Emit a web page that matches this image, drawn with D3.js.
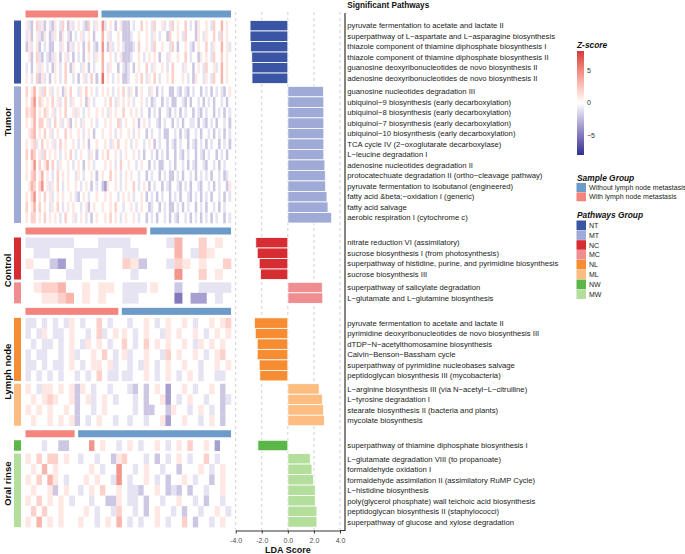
<!DOCTYPE html>
<html><head><meta charset="utf-8">
<script src="https://cdn.jsdelivr.net/npm/d3@7"></script>
<style>body{margin:0;background:#fff}svg{display:block;font-family:"Liberation Sans",Arial,sans-serif}</style>
</head><body><svg id="c" width="685" height="554"></svg>
<script>
// ---------------- DATA ----------------
const sectionNames = ["Tumor", "Control", "Lymph node", "Oral rinse"];
const sectionGroups = [["NT", "MT"], ["NC", "MC"], ["NL", "ML"], ["NW", "MW"]];
const pathwayGroups = ["NT", "MT", "NC", "MC", "NL", "ML", "NW", "MW"];
const sampleGroups = ["Without lymph node metastasis", "With lymph node metastasis"];
const zTicks = [5, 0, -5];
const ldaTicks = [-4, -2, 0, 2, 4];

const pathwaysNT = ["pyruvate fermentation to acetate and lactate II","superpathway of L−aspartate and L−asparagine biosynthesis","thiazole component of thiamine diphosphate biosynthesis I","thiazole component of thiamine diphosphate biosynthesis II","guanosine deoxyribonucleotides de novo biosynthesis II","adenosine deoxyribonucleotides de novo biosynthesis II"];
const ldaNT = [-2.9, -2.9, -2.85, -2.77, -2.75, -2.75];
const pathwaysMT = ["guanosine nucleotides degradation III","ubiquinol−9 biosynthesis (early decarboxylation)","ubiquinol−8 biosynthesis (early decarboxylation)","ubiquinol−7 biosynthesis (early decarboxylation)","ubiquinol−10 biosynthesis (early decarboxylation)","TCA cycle IV (2−oxoglutarate decarboxylase)","L−leucine degradation I","adenosine nucleotides degradation II","protocatechuate degradation II (ortho−cleavage pathway)","pyruvate fermentation to isobutanol (engineered)","fatty acid &beta;−oxidation I (generic)","fatty acid salvage","aerobic respiration I (cytochrome c)"];
const ldaMT = [2.74, 2.76, 2.76, 2.76, 2.76, 2.76, 2.76, 2.84, 2.87, 2.9, 3.0, 3.08, 3.36];
const pathwaysNC = ["nitrate reduction VI (assimilatory)","sucrose biosynthesis I (from photosynthesis)","superpathway of histidine, purine, and pyrimidine biosynthesis","sucrose biosynthesis III"];
const ldaNC = [-2.46, -2.35, -2.2, -2.1];
const pathwaysMC = ["superpathway of salicylate degradation","L−glutamate and L−glutamine biosynthesis"];
const ldaMC = [2.64, 2.68];
const pathwaysNL = ["pyruvate fermentation to acetate and lactate II","pyrimidine deoxyribonucleotides de novo biosynthesis III","dTDP−N−acetylthomosamine biosynthesis","Calvin−Benson−Bassham cycle","superpathway of pyrimidine nucleobases salvage","peptidoglycan biosynthesis III (mycobacteria)"];
const ldaNL = [-2.57, -2.5, -2.35, -2.35, -2.2, -2.15];
const pathwaysML = ["L−arginine biosynthesis III (via N−acetyl−L−citrulline)","L−tyrosine degradation I","stearate biosynthesis II (bacteria and plants)","mycolate biosynthesis"];
const ldaML = [2.4, 2.65, 2.74, 2.8];
const pathwaysNW = ["superpathway of thiamine diphosphate biosynthesis I"];
const ldaNW = [-2.3];
const pathwaysMW = ["L−glutamate degradation VIII (to propanoate)","formaldehyde oxidation I","formaldehyde assimilation II (assimilatory RuMP Cycle)","L−histidine biosynthesis","poly(glycerol phosphate) wall teichoic acid biosynthesis","peptidoglycan biosynthesis II (staphylococci)","superpathway of glucose and xylose degradation"];
const ldaMW = [1.72, 1.85, 1.97, 2.1, 2.1, 2.23, 2.23];

// Heatmap z-score codes per row: "with LN samples | without LN samples"
// . = 0 ; 1..5 = increasing positive ; a..d = increasing negative
const heatNT = [
 "1ab.2a1b.a b1.a2.b1a. 1.ab2.a1|4a.1.b.1bb b.a..2.1.a 2..1a.a2.1 ..2.a.b1.. 1.a2..3.1.",
 "a1b.1ab1.b a1.b1.ab.a .1a.1.b.|3.1a..1.bb ba..1..1.a 1.a..b2..1 .a2...b1.a 1..2.a2.1.",
 "b1a.1b.a.b b..a1.b1a. 1.b.2.ab|4.b1a.1.ab bba.2..1.a 2..1..a2.b ..1.ab.1.. 2.a1..3.1a",
 ".1b.2ab.ab a1.b.1a.b. a.b.1.a1|3..1.a.1bb ba..1.a.1. 1.b..a1..1 ..2.a..b1. 1.a2..2.1.",
 "a.b.1a1.a. b1.a.2.b1. .a1.b.a.|3.a1..b.ab a.b.1..2.a 1..1.a.2.. .a1..b.1.a 2..1a.3.1.",
 "1.a.2b1a.b .1.a.2..a. b.1a.2.b|5.1.a.1.bb a..1.2.a1. 2.a..1.2.. .1.a.b1..a 1.a2..3.1."];
const heatMT = [
 "2.13.1a2.1 a.1.b1.2.. a1.2.1.a|1.1.a.1.2. a1.b.1..a1 .b.a..bb.a b.ab.a..b. a.b.a.ab.1",
 "1.24.21.1. 2.1a.2.a1. .1.b1.a.|.1.2.a1.1. 1.a..1.a.b a..b.a.bb. .ab.b..a.b .a.b..a.b.",
 "2123.1.21. 1a.1.2..1a 1.a.1..1|1.a1.1..2. .1.1.a..b. a.b..ab.a. b.a..b.ab. a..b.a.b.a",
 "1.13.22.1a .2.1a.1b.1 .a1..1.a|.1.1..2a.1 ..1.b.1.a. .ab.a..b.a .b..aa.b.a b.a.b..a.b",
 ".123.1.2.1 a.1..2.1.. 1.a.1.b.|1..1.a.1.. 1.a.1..b.a ..a.bb..a. b.ab..a.b. .a.b.a.b.a",
 "1.12a.2.1. 1a.2.1..1. a.1.b..1|.1.a1.2..1 .a.1..a.1. b.a..b.ab. a..b.ab.a. b.a..b.a.b",
 "2.32.1a2.1 .1.a.1.2.a .1..a1.b|1.2..1.a.1 ..1.a.b..a .b.a.b..b. ab.a..b.ab .a..b.a.b.",
 "1.14.2.13. 2.a1..1.a. 1.b.1.a.|.1.1.a.2.. 1..a.1..b. a.bb..a.b. .a.b.ab..a b..a.b.a..",
 "1.23.13.1. a.2.1.1..a 1.a..1.b|1..2.1.a.1 .1..a..b.a ..b.a.bb.a .b..a.b.a. a.b..a.ba.",
 ".132.24.1a 1.2.a.1..1 .a.1.b.a|bc1..1.a.1 ..2.a.1.b. a..b.ab..a b.a.b..ab. .a.b.a..b1",
 "1.24.1.2.1 a.1.1..1.a b.1.a..1|.1.1..a.1. 1.a..1.b.a .b.a..b.a. b..ab.a.b. a.b..a.b.a",
 "2.13.2.1.a 1.2.a.1.1. .a.1b.1.|1..1.2..a. .1.a.1..ba ..b.a.bb.a .b.a..b.a. b..a.b.a..",
 "1.22.1.2.1 .1.a.2..1a .1.a.b.1|.1.2.1.a.1 ..1.a..b.a .b..a.b.ab ..a.b.a.b. a.b.a..b.a"];
const heatNC = [
 "aaaaaa...a aaa..|..a3..2.1.",
 ".aa...aaaa ..aa.|...3.a21..",
 "1..bc.a..a ..21b|..a21.1..2",
 ".aa..aa.aa ...a.|...4..2.1."];
const heatMC = [
 ".1223..1.1 1.aaa|1..b..aaaa",
 "..1123.1.1 ..aa.|...d.cc.a."];
const heatNL = [
 "aa.a.a.a1. a..2.a.|.a..1.a.1. .1.a..1.12",
 "a.a1.aa.1. .a.2a.1|1.a.1..a1. 1..1.a.1.1",
 ".a.aa.a.1. a1.1.a.|2.a.2.1.1. .1.a1.1.1.",
 "a.aa..a.1a ..1.2.a|1a..1..a2. 1..1.a.12.",
 "aa.a.aa.1. a.11.1a|.a.a1.a.1. .1..a..1.1",
 "a.a.a.a..a .a.2.aa|aa..1.a.1. a.1.a..aa."];
const heatML = [
 "1.a11.1.1b 1.a..a.|.ab.b.1.c. .1.a..1.b.",
 ".1.121..1b .1a.1.a|..a.b..1c. a.1..a..ba",
 "1.1.1..1.b ..a.1..|..a.bb..b1 ..a.1.a.b.",
 ".1..1.1.1b .a.1..a|.a..a..1c. .1..a.1.b."];
const heatNW = [
 "...a..bb.|..4.1..a.1 .a..1.a.1. 2..1.c.."];
const heatMW = [
 "1.2.22.1.|a..a..b12. ..a.b.a.1. a..2.a..",
 ".1.3.1...|..1.a..4.. a.1..a..b. ..1.a.1.",
 "1.2.31.a.|.1.1..a4.a ..1.a.b..1 .a..b.1.",
 ".1..1b.1.|a.1.2..1.a ab..1.bab. b..a..1.",
 "1.2.1.1.a|..a..bb1.a a.b..a..1. .a.b..a.",
 ".2.2..1..|.1.a..a2.. a.b.1..a.b ..a..1.a",
 "1.3.1.1..|1..a.1.3.a .a..1.a..2 .b..a.1."];

// --------------- STYLE / LAYOUT ---------------
const groupData = {
  NT: {names: pathwaysNT, lda: ldaNT, heat: heatNT},
  MT: {names: pathwaysMT, lda: ldaMT, heat: heatMT},
  NC: {names: pathwaysNC, lda: ldaNC, heat: heatNC},
  MC: {names: pathwaysMC, lda: ldaMC, heat: heatMC},
  NL: {names: pathwaysNL, lda: ldaNL, heat: heatNL},
  ML: {names: pathwaysML, lda: ldaML, heat: heatML},
  NW: {names: pathwaysNW, lda: ldaNW, heat: heatNW},
  MW: {names: pathwaysMW, lda: ldaMW, heat: heatMW}
};
const groupColor = d3.scaleOrdinal().domain(pathwayGroups)
  .range(["#3A55A4", "#9FAAD6", "#D62D32", "#F08D90", "#F78D32", "#FDBC80", "#5BB848", "#B3DE9B"]);
const sampleColor = d3.scaleOrdinal().domain(sampleGroups).range(["#6C9BC9", "#F4847E"]);
const zCode = {'.': 0, '1': 1, '2': 2, '3': 3.2, '4': 4.5, '5': 6, 'a': -1, 'b': -2, 'c': -3.5, 'd': -5};
const zColor = d3.scaleLinear().domain([-8, 0, 8]).range(["#2E3192", "#FFFFFF", "#D7363B"]).interpolate(d3.interpolateLab);

const svg = d3.select("#c");
const rowH = 10.51, subGap = 2.8, secGap = 4.5, sbH = 7, sbGap = 3;
const hmX0 = 25.5, hmX1 = 231, colGap = 3.5;
const x = d3.scaleLinear().domain([-4, 4]).range([235.7, 340]);
const labelX = 347.3;

// grid lines
svg.append("g").selectAll("line").data(ldaTicks).join("line")
  .attr("x1", d => x(d)).attr("x2", d => x(d)).attr("y1", 12).attr("y2", 530)
  .attr("stroke", "#c4c4c4").attr("stroke-width", 0.8).attr("stroke-dasharray", "3,3");

function parseRow(s) {
  return s.split("|").map(p => p.replace(/\s+/g, "").split("").map(ch => zCode[ch]));
}

let y = 10.5;
sectionNames.forEach((sec, si) => {
  const groups = sectionGroups[si];
  const rows0 = parseRow(groupData[groups[0]].heat[0]);
  const nL = rows0[0].length, nR = rows0[1].length;
  const w = hmX1 - hmX0 - colGap;
  const wL = w * nL / (nL + nR);
  const xs = [d3.scaleBand().domain(d3.range(nL)).range([hmX0, hmX0 + wL]),
              d3.scaleBand().domain(d3.range(nR)).range([hmX0 + wL + colGap, hmX1])];
  const g = svg.append("g");
  // sample group annotation bar
  [sampleGroups[1], sampleGroups[0]].forEach((sg, k) => {
    const r = xs[k].range();
    g.append("rect").attr("x", r[0]).attr("y", y).attr("width", r[1] - r[0]).attr("height", sbH)
      .attr("fill", sampleColor(sg));
  });
  y += sbH + sbGap;
  const secTop = y;
  groups.forEach((gn, gi) => {
    if (gi > 0) y += subGap;
    const d = groupData[gn];
    const n = d.names.length;
    const ys = d3.scaleBand().domain(d3.range(n)).range([y, y + n * rowH]);
    // side bar
    g.append("rect").attr("x", 14).attr("y", y).attr("width", 7).attr("height", n * rowH)
      .attr("fill", groupColor(gn));
    // heat cells
    d.heat.forEach((rs, ri) => {
      const parts = parseRow(rs);
      parts.forEach((vals, k) => {
        g.append("g").selectAll("rect").data(vals).join("rect")
          .attr("x", (v, c) => xs[k](c)).attr("y", ys(ri))
          .attr("width", xs[k].bandwidth() + 0.3).attr("height", ys.bandwidth() + 0.3)
          .attr("fill", v => zColor(v));
      });
    });
    // bars
    g.append("g").selectAll("rect").data(d.lda).join("rect")
      .attr("x", v => x(Math.min(0, v))).attr("width", v => Math.abs(x(v) - x(0)))
      .attr("y", (v, i) => ys(i)).attr("height", ys.bandwidth())
      .attr("fill", groupColor(gn)).attr("stroke", "#fff").attr("stroke-width", 0.8);
    // labels
    g.append("g").selectAll("text").data(d.names).join("text")
      .attr("x", labelX).attr("y", (t, i) => ys(i) + ys.bandwidth() / 2).attr("dy", "0.35em")
      .attr("font-size", 7.7).attr("fill", "#1a1a1a").text(t => t);
    y += n * rowH;
  });
  const mid = (secTop + y) / 2;
  g.append("text").attr("transform", `translate(10.5,${mid}) rotate(-90)`)
    .attr("text-anchor", "middle").attr("font-size", 9.5).attr("font-weight", "bold")
    .attr("fill", "#111").text(sec);
  y += secGap;
});

// axis
const ax = svg.append("g").attr("transform", "translate(0,530.5)")
  .call(d3.axisBottom(x).tickValues(ldaTicks).tickSize(3).tickSizeOuter(0).tickFormat(d => d.toFixed(1)));
ax.select(".domain").attr("stroke", "#333");
ax.selectAll(".tick line").attr("stroke", "#333");
ax.selectAll(".tick text").attr("font-size", 7).attr("fill", "#4d4d4d").attr("dy", "0.9em")
  .attr("font-family", '"Liberation Sans",Arial,sans-serif');
svg.append("line").attr("x1", 340).attr("x2", 345).attr("y1", 530.5).attr("y2", 530.5).attr("stroke", "#333");
svg.append("line").attr("x1", 345).attr("x2", 345).attr("y1", 13).attr("y2", 531).attr("stroke", "#333").attr("stroke-width", 1.2);
svg.append("text").attr("x", x(0)).attr("y", 553).attr("text-anchor", "middle")
  .attr("font-size", 9).attr("font-weight", "bold").attr("fill", "#111").text("LDA Score");

// title
svg.append("text").attr("x", labelX).attr("y", 8).attr("font-size", 8.2).attr("font-weight", "bold")
  .attr("fill", "#111").text("Significant Pathways");

// Z-score legend
const lg = svg.append("g");
lg.append("text").attr("x", 577).attr("y", 47.5).attr("font-size", 8.4).attr("font-weight", "bold")
  .attr("font-style", "italic").attr("fill", "#111").text("Z-score");
const zy = d3.scaleLinear().domain([-8, 8]).range([155, 51]);
const defs = svg.append("defs");
const grad = defs.append("linearGradient").attr("id", "zg").attr("x1", 0).attr("x2", 0).attr("y1", 1).attr("y2", 0);
d3.range(-8, 8.01, 1).forEach(v => grad.append("stop").attr("offset", (v + 8) / 16).attr("stop-color", zColor(v)));
lg.append("rect").attr("x", 577).attr("y", zy(8)).attr("width", 7).attr("height", zy(-8) - zy(8)).attr("fill", "url(#zg)");
lg.selectAll(".zt").data(zTicks).join("text").attr("class", "zt")
  .attr("x", 587).attr("y", d => zy(d)).attr("dy", "0.35em").attr("font-size", 7).attr("fill", "#333")
  .text(d => d < 0 ? "−" + Math.abs(d) : d);

// Sample group legend
lg.append("text").attr("x", 577).attr("y", 180.5).attr("font-size", 8.4).attr("font-weight", "bold")
  .attr("font-style", "italic").attr("fill", "#111").text("Sample Group");
const sgy = d3.scaleBand().domain(sampleGroups).range([183, 201.6]);
lg.selectAll(".sgr").data(sampleGroups).join("rect").attr("class", "sgr")
  .attr("x", 576.5).attr("y", d => sgy(d)).attr("width", 9.5).attr("height", sgy.bandwidth() - 0.3)
  .attr("fill", d => sampleColor(d));
lg.selectAll(".sgt").data(sampleGroups).join("text").attr("class", "sgt")
  .attr("x", 589).attr("y", d => sgy(d) + sgy.bandwidth() / 2).attr("dy", "0.35em")
  .attr("font-size", 7).attr("fill", "#222").text(d => d);

// Pathway group legend
lg.append("text").attr("x", 577).attr("y", 217.5).attr("font-size", 8.4).attr("font-weight", "bold")
  .attr("font-style", "italic").attr("fill", "#111").text("Pathways Group");
const pgy = d3.scaleBand().domain(pathwayGroups).range([220.5, 220.5 + 8 * 9.85]);
lg.selectAll(".pgr").data(pathwayGroups).join("rect").attr("class", "pgr")
  .attr("x", 576.5).attr("y", d => pgy(d)).attr("width", 9.5).attr("height", pgy.bandwidth() - 0.3)
  .attr("fill", d => groupColor(d));
lg.selectAll(".pgt").data(pathwayGroups).join("text").attr("class", "pgt")
  .attr("x", 589).attr("y", d => pgy(d) + pgy.bandwidth() / 2).attr("dy", "0.35em")
  .attr("font-size", 7).attr("fill", "#222").text(d => d);
</script></body></html>
